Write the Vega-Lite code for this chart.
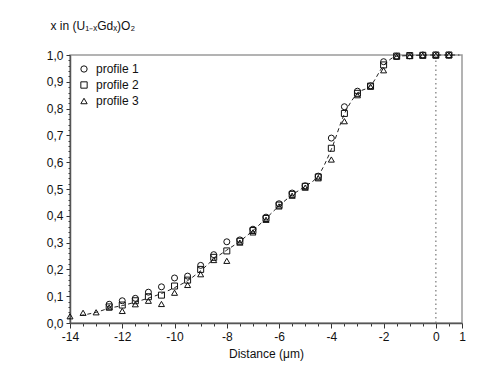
{
  "$schema": "https://vega.github.io/schema/vega-lite/v6.json",
  "width": 392,
  "height": 268,
  "autosize": {"type": "none"},
  "padding": {"left": 70, "top": 55, "right": 22, "bottom": 42},
  "background": "white",
  "config": {
    "font": "Liberation Sans",
    "view": {"stroke": "#9a9a9a", "strokeWidth": 1.5},
    "axis": {"domainColor": "#555", "domainWidth": 1.5, "tickColor": "#333", "labelColor": "#111", "titleColor": "#111", "grid": false, "labelFont": "Liberation Sans", "titleFont": "Liberation Sans"}
  },
  "datasets": {
    "pts": [
      {"x": -12.5, "y": 0.07, "profile": "profile 1"},
      {"x": -12, "y": 0.083, "profile": "profile 1"},
      {"x": -11.5, "y": 0.092, "profile": "profile 1"},
      {"x": -11, "y": 0.115, "profile": "profile 1"},
      {"x": -10.5, "y": 0.135, "profile": "profile 1"},
      {"x": -10, "y": 0.168, "profile": "profile 1"},
      {"x": -9.5, "y": 0.175, "profile": "profile 1"},
      {"x": -9, "y": 0.215, "profile": "profile 1"},
      {"x": -8.5, "y": 0.255, "profile": "profile 1"},
      {"x": -8, "y": 0.303, "profile": "profile 1"},
      {"x": -7.5, "y": 0.31, "profile": "profile 1"},
      {"x": -7, "y": 0.35, "profile": "profile 1"},
      {"x": -6.5, "y": 0.395, "profile": "profile 1"},
      {"x": -6, "y": 0.445, "profile": "profile 1"},
      {"x": -5.5, "y": 0.485, "profile": "profile 1"},
      {"x": -5, "y": 0.512, "profile": "profile 1"},
      {"x": -4.5, "y": 0.548, "profile": "profile 1"},
      {"x": -4, "y": 0.69, "profile": "profile 1"},
      {"x": -3.5, "y": 0.807, "profile": "profile 1"},
      {"x": -3, "y": 0.865, "profile": "profile 1"},
      {"x": -2.5, "y": 0.885, "profile": "profile 1"},
      {"x": -2, "y": 0.975, "profile": "profile 1"},
      {"x": -1.5, "y": 0.995, "profile": "profile 1"},
      {"x": -1, "y": 0.997, "profile": "profile 1"},
      {"x": -0.5, "y": 1.0, "profile": "profile 1"},
      {"x": 0, "y": 1.0, "profile": "profile 1"},
      {"x": 0.5, "y": 1.0, "profile": "profile 1"},
      {"x": -12.5, "y": 0.06, "profile": "profile 2"},
      {"x": -12, "y": 0.067, "profile": "profile 2"},
      {"x": -11.5, "y": 0.083, "profile": "profile 2"},
      {"x": -11, "y": 0.098, "profile": "profile 2"},
      {"x": -10.5, "y": 0.104, "profile": "profile 2"},
      {"x": -10, "y": 0.138, "profile": "profile 2"},
      {"x": -9.5, "y": 0.16, "profile": "profile 2"},
      {"x": -9, "y": 0.2, "profile": "profile 2"},
      {"x": -8.5, "y": 0.245, "profile": "profile 2"},
      {"x": -8, "y": 0.269, "profile": "profile 2"},
      {"x": -7.5, "y": 0.305, "profile": "profile 2"},
      {"x": -7, "y": 0.345, "profile": "profile 2"},
      {"x": -6.5, "y": 0.39, "profile": "profile 2"},
      {"x": -6, "y": 0.44, "profile": "profile 2"},
      {"x": -5.5, "y": 0.48, "profile": "profile 2"},
      {"x": -5, "y": 0.51, "profile": "profile 2"},
      {"x": -4.5, "y": 0.545, "profile": "profile 2"},
      {"x": -4, "y": 0.652, "profile": "profile 2"},
      {"x": -3.5, "y": 0.782, "profile": "profile 2"},
      {"x": -3, "y": 0.857, "profile": "profile 2"},
      {"x": -2.5, "y": 0.884, "profile": "profile 2"},
      {"x": -2, "y": 0.963, "profile": "profile 2"},
      {"x": -1.5, "y": 0.996, "profile": "profile 2"},
      {"x": -1, "y": 0.998, "profile": "profile 2"},
      {"x": -0.5, "y": 0.999, "profile": "profile 2"},
      {"x": 0, "y": 1.0, "profile": "profile 2"},
      {"x": 0.5, "y": 1.0, "profile": "profile 2"},
      {"x": -14, "y": 0.025, "profile": "profile 3"},
      {"x": -13.5, "y": 0.038, "profile": "profile 3"},
      {"x": -13, "y": 0.04, "profile": "profile 3"},
      {"x": -12.5, "y": 0.058, "profile": "profile 3"},
      {"x": -12, "y": 0.045, "profile": "profile 3"},
      {"x": -11.5, "y": 0.07, "profile": "profile 3"},
      {"x": -11, "y": 0.083, "profile": "profile 3"},
      {"x": -10.5, "y": 0.071, "profile": "profile 3"},
      {"x": -10, "y": 0.113, "profile": "profile 3"},
      {"x": -9.5, "y": 0.142, "profile": "profile 3"},
      {"x": -9, "y": 0.182, "profile": "profile 3"},
      {"x": -8.5, "y": 0.235, "profile": "profile 3"},
      {"x": -8, "y": 0.232, "profile": "profile 3"},
      {"x": -7.5, "y": 0.3, "profile": "profile 3"},
      {"x": -7, "y": 0.338, "profile": "profile 3"},
      {"x": -6.5, "y": 0.385, "profile": "profile 3"},
      {"x": -6, "y": 0.435, "profile": "profile 3"},
      {"x": -5.5, "y": 0.475, "profile": "profile 3"},
      {"x": -5, "y": 0.505, "profile": "profile 3"},
      {"x": -4.5, "y": 0.54, "profile": "profile 3"},
      {"x": -4, "y": 0.61, "profile": "profile 3"},
      {"x": -3.5, "y": 0.753, "profile": "profile 3"},
      {"x": -3, "y": 0.85, "profile": "profile 3"},
      {"x": -2.5, "y": 0.882, "profile": "profile 3"},
      {"x": -2, "y": 0.943, "profile": "profile 3"},
      {"x": -1.5, "y": 0.994, "profile": "profile 3"},
      {"x": -1, "y": 0.996, "profile": "profile 3"},
      {"x": -0.5, "y": 0.998, "profile": "profile 3"},
      {"x": 0, "y": 0.998, "profile": "profile 3"},
      {"x": 0.5, "y": 0.999, "profile": "profile 3"}
    ],
    "fit": [
      {"x": -13.6, "y": 0.028},
      {"x": -13, "y": 0.04},
      {"x": -12.5, "y": 0.055},
      {"x": -12, "y": 0.065},
      {"x": -11.5, "y": 0.078},
      {"x": -11, "y": 0.093},
      {"x": -10.5, "y": 0.11},
      {"x": -10, "y": 0.132},
      {"x": -9.5, "y": 0.158},
      {"x": -9, "y": 0.195},
      {"x": -8.5, "y": 0.238},
      {"x": -8, "y": 0.272},
      {"x": -7.5, "y": 0.305},
      {"x": -7, "y": 0.345},
      {"x": -6.5, "y": 0.39},
      {"x": -6, "y": 0.437},
      {"x": -5.5, "y": 0.478},
      {"x": -5, "y": 0.51},
      {"x": -4.5, "y": 0.55},
      {"x": -4, "y": 0.648},
      {"x": -3.5, "y": 0.78},
      {"x": -3, "y": 0.857},
      {"x": -2.5, "y": 0.885},
      {"x": -2, "y": 0.96},
      {"x": -1.5, "y": 0.995},
      {"x": -1, "y": 0.998},
      {"x": 0, "y": 1.0},
      {"x": 0.9, "y": 1.0}
    ],
    "zero": [{"x": 0, "y": 0, "y2": 1}]
  },
  "encoding": {
    "x": {
      "field": "x",
      "type": "quantitative",
      "scale": {"domain": [-14, 1], "nice": false, "zero": false},
      "axis": {
        "title": "Distance (μm)",
        "titleFontSize": 12,
        "titleFontWeight": "normal",
        "titlePadding": 6,
        "values": [-14, -13.5, -13, -12.5, -12, -11.5, -11, -10.5, -10, -9.5, -9, -8.5, -8, -7.5, -7, -6.5, -6, -5.5, -5, -4.5, -4, -3.5, -3, -2.5, -2, -1.5, -1, -0.5, 0, 0.5, 1],
        "labelExpr": "(datum.value == 1 || datum.value % 2 == 0) ? ('' + datum.value) : ''",
        "tickSize": {"condition": {"test": "datum.value == 1 || datum.value % 2 == 0", "value": 5}, "value": 3},
        "labelOverlap": false,
        "labelFlush": false,
        "labelFontSize": 12,
        "labelPadding": 3
      }
    },
    "y": {
      "field": "y",
      "type": "quantitative",
      "scale": {"domain": [0, 1], "nice": false, "zero": false},
      "axis": {
        "title": "x in (U₁₋ₓGdₓ)O₂",
        "titleAngle": 0,
        "titleAlign": "left",
        "titleBaseline": "middle",
        "titleX": -20,
        "titleY": -30,
        "titleFontSize": 12,
        "titleFontWeight": "normal",
        "values": [0, 0.02, 0.04, 0.06, 0.08, 0.1, 0.12, 0.14, 0.16, 0.18, 0.2, 0.22, 0.24, 0.26, 0.28, 0.3, 0.32, 0.34, 0.36, 0.38, 0.4, 0.42, 0.44, 0.46, 0.48, 0.5, 0.52, 0.54, 0.56, 0.58, 0.6, 0.62, 0.64, 0.66, 0.68, 0.7, 0.72, 0.74, 0.76, 0.78, 0.8, 0.82, 0.84, 0.86, 0.88, 0.9, 0.92, 0.94, 0.96, 0.98, 1],
        "labelExpr": "abs(datum.value * 10 - round(datum.value * 10)) < 0.001 ? replace(format(datum.value, '.1f'), '.', ',') : ''",
        "tickSize": {"condition": {"test": "abs(datum.value * 10 - round(datum.value * 10)) < 0.001", "value": 4}, "value": 2},
        "labelOverlap": false,
        "labelFlush": false,
        "labelFontSize": 12,
        "labelPadding": 3
      }
    }
  },
  "layer": [
    {
      "data": {"name": "zero"},
      "mark": {"type": "rule", "color": "#777", "strokeDash": [1.5, 3], "strokeWidth": 1.2},
      "encoding": {"y2": {"field": "y2"}}
    },
    {
      "data": {"name": "fit"},
      "mark": {"type": "line", "color": "#222", "strokeDash": [4, 3], "strokeWidth": 1, "interpolate": "monotone"},
      "encoding": {}
    },
    {
      "data": {"name": "pts"},
      "mark": {"type": "point", "filled": false, "stroke": "#111", "strokeWidth": 1, "size": 36, "opacity": 1},
      "encoding": {
        "shape": {
          "field": "profile",
          "type": "nominal",
          "scale": {"domain": ["profile 1", "profile 2", "profile 3"], "range": ["circle", "square", "triangle-up"]},
          "legend": {
            "title": null,
            "orient": "none",
            "legendX": 8,
            "legendY": 8,
            "padding": 0,
            "labelFontSize": 12,
            "labelColor": "#111",
            "labelFont": "Liberation Sans",
            "symbolSize": 40,
            "symbolStrokeColor": "#111",
            "symbolFillColor": "transparent",
            "symbolStrokeWidth": 1,
            "rowPadding": 4,
            "labelOffset": 6
          }
        }
      }
    }
  ]
}
